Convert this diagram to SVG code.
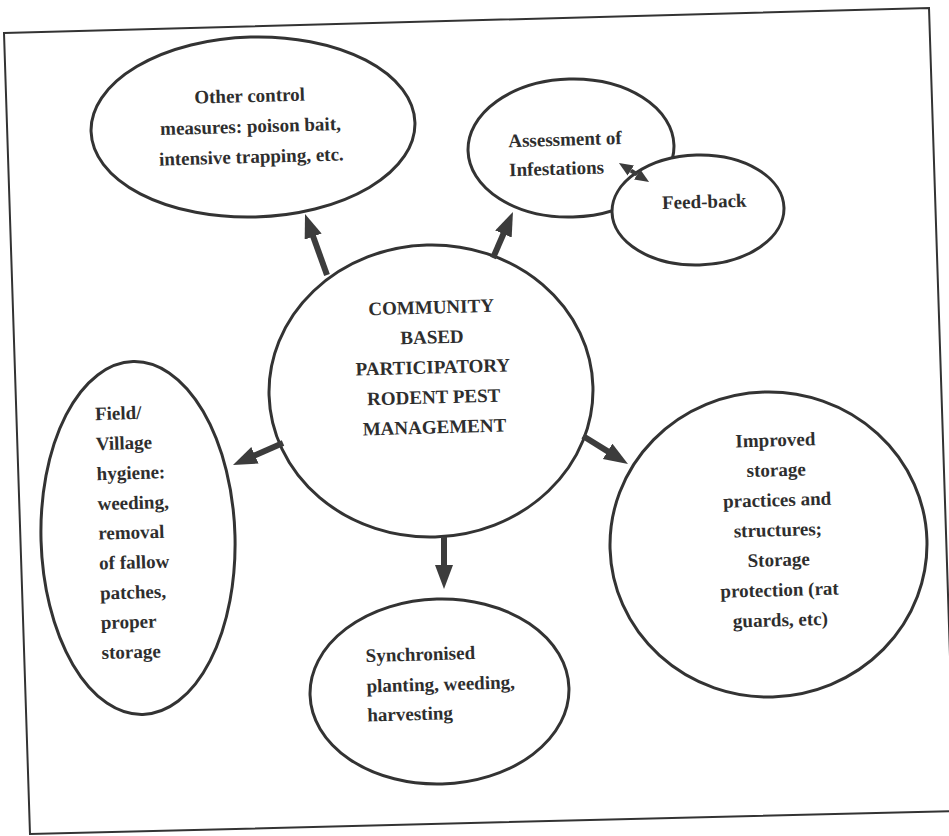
<svg xmlns="http://www.w3.org/2000/svg" width="949" height="836" viewBox="0 0 949 836">
  <style>
    .frame { fill: none; stroke: #333; stroke-width: 2; }
    .node ellipse { fill: #fff; stroke: #333; stroke-width: 3; }
    .node text { font-family: "Liberation Serif", "Times New Roman", serif; font-weight: bold; font-size: 19px; fill: #2e2e2e; }
    .mid { text-anchor: middle; }
    .arrow { fill: none; stroke: #3c3c3c; stroke-width: 6; marker-end: url(#head); }
    .dbl { fill: none; stroke: #3c3c3c; stroke-width: 4; marker-start: url(#small); marker-end: url(#small); }
  </style>
  <defs>
    <marker id="head" markerUnits="userSpaceOnUse" markerWidth="26" markerHeight="20" refX="4" refY="9" orient="auto">
      <path d="M0,0 L24,9 L0,18 z" fill="#3c3c3c"/>
    </marker>
    <marker id="small" markerUnits="userSpaceOnUse" markerWidth="16" markerHeight="14" refX="0" refY="6" orient="auto-start-reverse">
      <path d="M0,0 L14,6 L0,12 z" fill="#3c3c3c"/>
    </marker>
  </defs>
  <rect x="0" y="0" width="949" height="836" fill="#fff"/>
  <polygon class="frame" points="4,33 929,8 955,811 30,834"/>

  <g id="node-other" class="node" transform="rotate(-1.6 253 127)">
    <ellipse cx="253" cy="127" rx="162" ry="90"/>
    <text class="mid" x="250.5" y="102">Other control</text>
    <text class="mid" x="250.5" y="132.5">measures: poison bait,</text>
    <text class="mid" x="250.5" y="163">intensive trapping, etc.</text>
  </g>

  <g id="node-assessment" class="node" transform="rotate(-1.6 571 148)">
    <ellipse cx="571" cy="148" rx="103" ry="69"/>
    <text x="508.5" y="145.5">Assessment of</text>
    <text x="508.5" y="174.5">Infestations</text>
  </g>

  <g id="node-feedback" class="node" transform="rotate(-1.6 698 210)">
    <ellipse cx="698" cy="210" rx="86" ry="55"/>
    <text class="mid" x="704.5" y="208">Feed-back</text>
  </g>

  <g id="node-center" class="node" transform="rotate(-1.6 431 391)">
    <ellipse cx="431" cy="391" rx="162" ry="146"/>
    <text class="mid" x="433.5" y="313.5">COMMUNITY</text>
    <text class="mid" x="433.5" y="343.5">BASED</text>
    <text class="mid" x="433.5" y="373.5">PARTICIPATORY</text>
    <text class="mid" x="433.5" y="403.5">RODENT PEST</text>
    <text class="mid" x="433.5" y="433.5">MANAGEMENT</text>
  </g>

  <g id="node-field" class="node" transform="rotate(-1.6 138 538)">
    <ellipse cx="138" cy="538" rx="97" ry="176.5"/>
    <text x="98.5" y="419">Field/</text>
    <text x="98.5" y="449">Village</text>
    <text x="98.5" y="479">hygiene:</text>
    <text x="98.5" y="509">weeding,</text>
    <text x="98.5" y="538.5">removal</text>
    <text x="98.5" y="568.5">of fallow</text>
    <text x="98.5" y="598.5">patches,</text>
    <text x="98.5" y="628">proper</text>
    <text x="98.5" y="658">storage</text>
  </g>

  <g id="node-storage" class="node" transform="rotate(-1.6 768.5 544.5)">
    <ellipse cx="768.5" cy="544.5" rx="158.5" ry="152.5"/>
    <text class="mid" x="778.3" y="446.5">Improved</text>
    <text class="mid" x="778.3" y="476.5">storage</text>
    <text class="mid" x="778.3" y="506.5">practices and</text>
    <text class="mid" x="778.3" y="536.5">structures;</text>
    <text class="mid" x="778.3" y="566.5">Storage</text>
    <text class="mid" x="778.3" y="596.5">protection (rat</text>
    <text class="mid" x="778.3" y="626.5">guards, etc)</text>
  </g>

  <g id="node-sync" class="node" transform="rotate(-1.6 439.5 691.5)">
    <ellipse cx="439.5" cy="691.5" rx="129.5" ry="92.5"/>
    <text x="366.7" y="660">Synchronised</text>
    <text x="366.7" y="690.5">planting, weeding,</text>
    <text x="366.7" y="719.5">harvesting</text>
  </g>

  <g id="connectors">
    <path class="arrow" d="M327,275 L311.8,232.8"/>
    <path class="arrow" d="M493,258 L505,230.3"/>
    <path class="arrow" d="M283,443 L251.3,456.9"/>
    <path class="arrow" d="M583,436 L611,453.4"/>
    <path class="arrow" d="M444,537 L444,569"/>
    <path class="dbl" d="M630.8,170.5 L637.2,174.5"/>
  </g>
</svg>
